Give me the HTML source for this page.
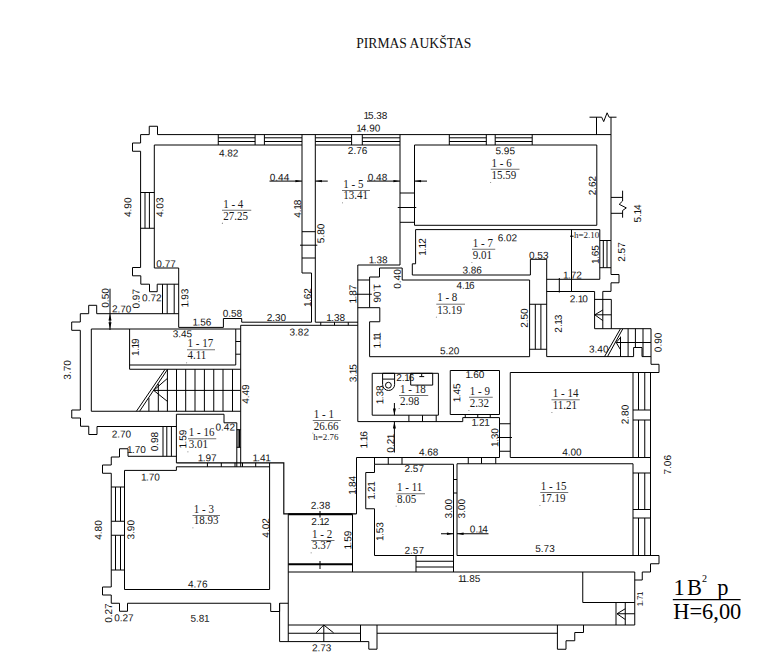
<!DOCTYPE html>
<html lang="lt"><head><meta charset="utf-8"><title>Pirmas aukštas</title>
<style>
html,body{margin:0;padding:0;background:#fff}
body{width:768px;height:653px;overflow:hidden}
svg{display:block}
.ln{fill:none;stroke:#000;stroke-linecap:butt;stroke-linejoin:miter}
.dim{font-family:"Liberation Sans","DejaVu Sans",sans-serif;font-size:10px;fill:#111;letter-spacing:0;text-anchor:middle}
.rm{font-family:"Liberation Serif","DejaVu Serif",serif;font-size:11.6px;fill:#1a1a1a;word-spacing:0}
.ttl{font-family:"Liberation Serif","DejaVu Serif",serif;font-size:13.9px;fill:#111}
.big{font-family:"Liberation Serif","DejaVu Serif",serif;font-size:23.5px;fill:#000}
</style></head><body>
<svg width="768" height="653" viewBox="0 0 768 653">
<rect width="768" height="653" fill="#fff"/>
<path class="ln" stroke-width="1" d="M611 134.6 L157.5 134.6 L157.5 126.25 L149.25 126.25 L149.25 134.6 L140.6 134.6 L140.6 143 L132.5 143 L132.5 151.25 L140.6 151.25 L140.6 267.5 L132.5 267.5 L132.5 275.8 L140.8 275.8 L140.8 284.2 L149.5 284.2 L149.5 291.7 L157.2 291.7 L157.2 284.2 L178.7 284.2 M302 145 L154.3 145 L154.3 268 L178.7 268 L178.7 327.4 L223.4 327.4 L223.4 318.5 L241.7 318.5 L241.7 322.2 L311.5 322.2 L311.5 273 L302 273 L302 134.6 M140.6 192.5 L154.3 192.5 M140.6 228.25 L154.3 228.25 M145 192.5 L145 228.25 M149.4 192.5 L149.4 228.25 M218.25 134.6 L218.25 145 M255.1 134.6 L255.1 145 M264.4 134.6 L264.4 145 M218.25 137.8 L255.1 137.8 M264.4 137.8 L302 137.8 M315.3 137.8 L351.6 137.8 M362.3 137.8 L400 137.8 M449.3 137.8 L486.3 137.8 M495.2 137.8 L532.2 137.8 M218.25 141.5 L255.1 141.5 M264.4 141.5 L302 141.5 M315.3 141.5 L351.6 141.5 M362.3 141.5 L400 141.5 M449.3 141.5 L486.3 141.5 M495.2 141.5 L532.2 141.5 M351.6 134.6 L351.6 145 M362.3 134.6 L362.3 145 M449.3 134.6 L449.3 145 M486.3 134.6 L486.3 145 M495.2 134.6 L495.2 145 M532.2 134.6 L532.2 145 M400 134.6 L400 265 L357.8 265 L357.8 421.6 M400 145 L315.3 145 M315.3 134.6 L315.3 322.2 L358 322.2 M302 231.7 L315.3 231.7 M300 245.2 L317.3 245.2 M302 258 L315.3 258 M400 193 L414.5 193 M397.75 207.5 L416.25 207.5 M400 222.3 L414.5 222.3 M414.5 145 L596.8 145 L596.8 225.3 L414.5 225.3 L414.5 145 M415.6 229.6 L599.8 229.6 L599.8 279.3 L546.7 279.3 M415.6 229.6 L415.6 263.8 L412.3 263.8 L412.3 275 L530.4 275 L530.4 259.3 L546.7 259.3 L546.7 356.6 M571.5 229.6 L571.5 291.5 M570 236.2 L573.6 236.2 M599.8 240.5 L611 240.5 M599.8 267.7 L611 267.7 M603.3 240.5 L603.3 267.7 M607 240.5 L607 267.7 M611 117.2 L611 274.5 L619 274.5 L619 282.8 L611 282.8 L611 291.4 L602.8 291.4 L602.8 328.7 M589.5 117.2 L601.7 117.2 L603.7 121.6 L607.1 112.8 L609.1 117.2 L616.5 117.2 M596.5 117.2 L596.5 134.6 M611 197.4 L622.6 197.4 M611 213.3 L622.6 213.3 M622.6 190.7 L622.6 201 L619.2 204.3 L626.3 207.9 L622.6 210.5 L622.6 217.7 M379.5 268 L402.2 268 L402.2 280 L529.6 280 L529.6 356.7 L369.6 356.7 L369.6 321.75 L379.8 321.75 L379.8 307.7 L369.6 307.7 L369.6 277 L379.5 277 L379.5 268 M357.8 280 L369.6 280 M355.5 294.25 L371.8 294.25 M357.8 307.7 L369.6 307.7 M529.6 304.25 L546.7 304.25 M529.6 349.25 L546.7 349.25 M535.3 304.25 L535.3 349.25 M540.9 304.25 L540.9 349.25 M546.7 356.6 L633.6 356.6 L633.6 347.5 L642 347.5 L642 356.6 L651 356.6 M546.7 291.5 L594.6 291.5 L594.6 328.7 L651 328.7 L651 364.3 L659 364.3 L659 372.5 L510.25 372.5 L510.25 457.5 L633 457.5 M559.3 278 L559.3 292.5 M594.6 299.4 L611.3 299.4 M594.6 314.8 L611.3 314.8 M611.3 299.4 L611.3 328.7 M602.8 310 L594.8 314.8 L602.8 320.6 M620.3 329 L604.5 356.6 M622.7 329 L607.5 356.6 M628.1 328.7 L628.1 356.6 M635.4 328.7 L635.4 347.5 M643 328.7 L643 356.6 M620.5 336.6 L620.5 356.6 M616.2 342.5 L651 342.5 M620.5 337.4 L616.2 342.5 L620.5 349.7 M372.2 373.3 L438.4 373.3 L438.4 415.2 L372.2 415.2 L372.2 373.3 M382.6 373.3 L394.6 373.3 L394.6 379.1 L382.6 379.1 L382.6 373.3 M410.7 373.3 L432.7 373.3 L432.7 385.1 L410.7 385.1 L410.7 373.3 M421.7 374 L421.7 376.6 M419.3 376.6 L424.2 376.6 M357.8 421.6 L462.75 421.6 L462.75 417.6 L499.5 417.6 L499.5 457.5 M408.9 415.2 L408.9 421.6 M422.5 415.2 L422.5 421.6 M436.2 415.2 L436.2 421.6 M394.4 403 L394.4 415.2 M394.4 421.6 L394.4 452.5 M450.25 370.5 L499.5 370.5 L499.5 414.5 L450.25 414.5 L450.25 370.5 M465.25 414.5 L465.25 417.6 M477.75 414.5 L477.75 417.6 M490.25 414.5 L490.25 417.6 M633 372.5 L633 457.5 M499.5 423.75 L510.25 423.75 M497.75 437.5 L512 437.5 M499.5 451.25 L510.25 451.25 M499.5 457.5 L356.5 457.5 L356.5 513.9 M374.5 457.5 L374.5 464.25 M388.25 457.5 L388.25 464.25 M402 457.5 L402 464.25 M468.25 457.5 L468.25 463.75 M481.5 457.5 L481.5 463.75 M495.75 457.5 L495.75 463.75 M374.5 464.25 L453.5 464.25 L453.5 572 M374.5 464.25 L374.5 472.5 L365.75 472.5 L365.75 508.75 L374.5 508.75 L374.5 555.5 L453.5 555.5 M416 555.5 L416 572 M416 561.25 L453.5 561.25 M416 567 L453.5 567 M453.5 479.5 L457 479.5 M453.5 493 L457 493 M633 463.75 L457 463.75 L457 555.5 L659 555.5 L659 563.75 L650.5 563.75 L650.5 572 L642.25 572 L642.25 580 L634.75 580 L634.75 625 M633 463.75 L633 555.5 M634.75 572 L634.75 580 M650.5 372.5 L650.5 555.5 M638.5 372.5 L638.5 410 M644.75 372.5 L644.75 410 M638.5 420 L638.5 457.5 M644.75 420 L644.75 457.5 M638.5 473 L638.5 509.5 M644.75 473 L644.75 509.5 M638.5 518 L638.5 555.5 M644.75 518 L644.75 555.5 M633 410 L650.5 410 M633 420 L650.5 420 M633 457.5 L650.5 457.5 M633 473 L650.5 473 M633 509.5 L650.5 509.5 M633 518 L650.5 518 M288.25 572 L634.75 572 M240.7 466.7 L240.7 325.3 L357.8 325.3 M320.75 322.2 L320.75 325.3 M334.5 322.2 L334.5 325.3 M348.25 322.2 L348.25 325.3 M269.6 462.9 L269.6 589.5 L124.5 589.5 L124.5 470.4 L176.4 470.4 L176.4 466.8 L269.6 466.8 M176.4 462.9 L176.4 414.25 L224 414.25 L224 422.8 L236.8 422.8 L236.8 466.8 M207.4 462.9 L207.4 466.8 M221.3 462.9 L221.3 466.8 M235 462.9 L235 466.8 M242.5 462.9 L242.5 466.8 M255.7 462.9 L255.7 466.8 M236.8 429.7 L240.7 429.7 M236.8 447.3 L240.7 447.3 M238.1 429.7 L238.1 447.3 M239.5 429.7 L239.5 447.3 M178.7 313.7 L96.7 313.7 L96.7 305.3 L88.7 305.3 L88.7 313.7 L80.3 313.7 L80.3 322 L71.7 322 L71.7 330.3 L80.3 330.3 L80.3 410 L71.75 410 L71.75 418 L80.5 418 L80.5 426.25 L88.75 426.25 L88.75 434.5 L97 434.5 L97 426.5 L176.4 426.5 M162.5 284.2 L162.5 313.7 M167.2 284.2 L167.2 313.7 M174.2 284.2 L174.2 313.7 M240.6 329 L91.3 329 L91.3 411.25 L240.6 411.25 M129.6 329 L129.6 369.25 L240.6 369.25 M129.6 365 L235.75 365 M235.75 329 L235.75 365 M235.75 341.5 L240.6 341.5 M235.75 354.2 L240.6 354.2 M167.4 369.25 L167.4 411.25 M176.5 369.25 L176.5 411.25 M185.7 369.25 L185.7 411.25 M195 369.25 L195 411.25 M204.4 369.25 L204.4 411.25 M213.75 369.25 L213.75 411.25 M223 369.25 L223 411.25 M232.5 369.25 L232.5 411.25 M153.7 390.4 L240.6 390.4 M165.1 369.25 L136.4 411.25 M167.4 369.6 L139.6 411.25 M167.4 378.4 L153.7 390.4 L167.4 401.4 M148.9 398 L148.9 411.25 M158.3 383.9 L158.3 411.25 M110 288.7 L110 330 M163 426.5 L163 456.3 M166.8 426.5 L166.8 456.3 M171.4 426.5 L171.4 456.3 M176.4 456.3 L128 456.3 L128 448.75 L119.5 448.75 L119.5 457 L111.25 457 L111.25 465 L102.5 465 L102.5 473.25 L111.25 473.25 L111.25 587 L102.5 587 L102.5 595 L111.25 595 L111.25 603.25 L119.5 603.25 L119.5 611.25 L127.5 611.25 L127.5 603.25 L270.7 603.25 L270.7 611.5 L279.6 611.5 L279.6 603.25 L288.25 603.25 M111.25 487 L124.5 487 M111.25 521.25 L124.5 521.25 M111.25 535.25 L124.5 535.25 M111.25 570 L124.5 570 M115.5 487 L115.5 521.25 M120.5 487 L120.5 521.25 M115.5 535.25 L115.5 570 M120.5 535.25 L120.5 570 M279.6 603.25 L279.6 641.6 L368.8 641.6 L368.8 649.2 L377 649.2 L377 625 M288.25 514.25 L288.25 641.6 M288.25 625 L634.75 625 M288.25 633.25 L360.5 633.25 M360.5 625 L360.5 641.6 M377 633.25 L557.4 633.25 M557.4 625 L557.4 649.25 L566 649.25 L566 640.75 L574.75 640.75 L574.75 632.5 L583.5 632.5 L583.5 625 M323.8 625 L323.8 641.6 M316.2 632.8 L323.8 625 L333.6 632.8 M582.75 572 L582.75 602.5 L634.75 602.5 M616 602.5 L616 625 M625.25 602.5 L625.25 625 M617 613.75 L634.75 613.75 M625.25 608.75 L617 613.75 L625.25 619.5 M352.5 514.25 L352.5 572 M320 511 L320 517.5 M320 561 L320 569 M269.5 181.1 L302 181.1 M315.3 181.1 L327.75 181.1 M367 181.1 L400 181.1 M414.5 181.1 L427 181.1 M441 533.75 L453.5 533.75 M457 533.75 L488.5 533.75"/>
<path class="ln" stroke-width="1.15" d="M176.4 462.9 L283.8 462.9 L283.8 513.9 L356.5 513.9"/>
<path class="ln" stroke-width="1.9" d="M288.25 514.25 L352.5 514.25 M288.25 564.25 L352.5 564.25"/>
<path class="ln" stroke-width="1" d="M382.6 379.1 V384.5 A6 6 0 0 0 394.6 384.5 V379.1"/>
<circle class="ln" stroke-width="1" cx="388.4" cy="385.2" r="2.9"/>
<path fill="#000" d="M302 181.1 L295.4 179.95 L295.4 182.25Z M315.3 181.1 L321.9 179.95 L321.9 182.25Z M400 181.1 L393.4 179.95 L393.4 182.25Z M414.5 181.1 L421.1 179.95 L421.1 182.25Z M453.5 533.75 L446.9 532.6 L446.9 534.9Z M457 533.75 L463.6 532.6 L463.6 534.9Z M110 313.7 L108.5 320.5 L111.5 320.5Z M110 329 L108.5 322.2 L111.5 322.2Z M394.4 415.2 L392.9 408.4 L395.9 408.4Z M394.4 421.6 L392.9 428.4 L395.9 428.4Z"/>
<text class="ttl" x="356.2" y="47.5" textLength="115.2" lengthAdjust="spacingAndGlyphs">PIRMAS AUKŠTAS</text>
<g class="dim">
<text transform="translate(375.8 118.9) rotate(.2)" dx="-0.4 -1 0 0 0">15.38</text>
<text transform="translate(368.65 131.6) rotate(.2)" dx="-0.4 -1 0 0 0">14.90</text>
<text transform="translate(357.6 154) rotate(.2)">2.76</text>
<text transform="translate(228.62 156.5) rotate(.2)">4.82</text>
<text transform="translate(279.5 180.7) rotate(.2)">0.44</text>
<text transform="translate(377.5 180.7) rotate(.2)">0.48</text>
<text transform="translate(297.62 208.75) rotate(-89.8)" y="3.3" dx="0 0 -0.4 -1">4.18</text>
<text transform="translate(321 233.38) rotate(-89.8)" y="3.3">5.80</text>
<text transform="translate(422.35 246.6) rotate(-89.8)" y="3.3" dx="-0.4 -0.6 -0.4 -1">1.12</text>
<text transform="translate(378.65 263.3) rotate(.2)" dx="-0.4 -0.6 0 0">1.38</text>
<text transform="translate(505.25 154.25) rotate(.2)">5.95</text>
<text transform="translate(592.38 185.62) rotate(-89.8)" y="3.3">2.62</text>
<text transform="translate(507.38 241.25) rotate(.2)">6.02</text>
<text transform="translate(538.75 258.8) rotate(.2)">0.53</text>
<text transform="translate(595.55 254.25) rotate(-89.8)" y="3.3" dx="-0.4 -0.6 0 0">1.65</text>
<text transform="translate(621.65 252) rotate(-89.8)" y="3.3">2.57</text>
<text transform="translate(637.7 213.5) rotate(-89.8)" y="3.3" dx="0 0 -0.4 -1">5.14</text>
<text transform="translate(128 207.25) rotate(-89.8)" y="3.3">4.90</text>
<text transform="translate(160 207.25) rotate(-89.8)" y="3.3">4.03</text>
<text transform="translate(166.1 267.2) rotate(.2)">0.77</text>
<text transform="translate(151.8 301.2) rotate(.2)">0.72</text>
<text transform="translate(136.25 298.75) rotate(-89.8)" y="3.3">0.97</text>
<text transform="translate(105.5 297.95) rotate(-89.8)" y="3.3">0.50</text>
<text transform="translate(121.65 312.4) rotate(.2)">2.70</text>
<text transform="translate(185 297.75) rotate(-89.8)" y="3.3" dx="-0.4 -0.6 0 0">1.93</text>
<text transform="translate(202.25 325.5) rotate(.2)" dx="-0.4 -0.6 0 0">1.56</text>
<text transform="translate(232.38 316.75) rotate(.2)">0.58</text>
<text transform="translate(182.38 337.25) rotate(.2)">3.45</text>
<text transform="translate(135.38 346.75) rotate(-89.8)" y="3.3" dx="-0.4 -0.6 -0.4 -1">1.19</text>
<text transform="translate(67.5 369.88) rotate(-89.8)" y="3.3">3.70</text>
<text transform="translate(245.62 394.12) rotate(-89.8)" y="3.3">4.49</text>
<text transform="translate(307.62 297.12) rotate(-89.8)" y="3.3" dx="-0.4 -0.6 0 0">1.62</text>
<text transform="translate(276.38 321) rotate(.2)">2.30</text>
<text transform="translate(336.12 321) rotate(.2)" dx="-0.4 -0.6 0 0">1.38</text>
<text transform="translate(299.25 335.5) rotate(.2)">3.82</text>
<text transform="translate(353 293.75) rotate(-89.8)" y="3.3" dx="-0.4 -0.6 0 0">1.87</text>
<text transform="translate(377 293.62) rotate(90.2)" y="3.3" dx="-0.4 -0.6 0 0">1.06</text>
<text transform="translate(397.5 279) rotate(-89.8)" y="3.3">0.40</text>
<text transform="translate(377.25 339.88) rotate(-89.8)" y="3.3" dx="-0.4 -0.6 -0.4 -1.4">1.11</text>
<text transform="translate(353.25 373.25) rotate(-89.8)" y="3.3" dx="0 0 -0.4 -1">3.15</text>
<text transform="translate(405.25 381) rotate(.2)" dx="0 0 -0.4 -1">2.16</text>
<text transform="translate(380 394.5) rotate(-89.8)" y="3.3" dx="-0.4 -0.6 0 0">1.38</text>
<text transform="translate(472.12 273.5) rotate(.2)">3.86</text>
<text transform="translate(465.5 288.75) rotate(.2)" dx="0 0 -0.4 -1">4.16</text>
<text transform="translate(524.5 318.12) rotate(-89.8)" y="3.3">2.50</text>
<text transform="translate(449.65 354.25) rotate(.2)">5.20</text>
<text transform="translate(572.75 278.5) rotate(.2)" dx="-0.4 -0.6 0 0">1.72</text>
<text transform="translate(578.75 302.25) rotate(.2)" dx="0 0 -0.4 -1">2.10</text>
<text transform="translate(558.38 323.62) rotate(-89.8)" y="3.3" dx="0 0 -0.4 -1">2.13</text>
<text transform="translate(598.75 352.5) rotate(.2)">3.40</text>
<text transform="translate(658.1 342.4) rotate(-89.8)" y="3.3">0.90</text>
<text transform="translate(475.25 378) rotate(.2)" dx="-0.4 -0.6 0 0">1.60</text>
<text transform="translate(457 392.5) rotate(-89.8)" y="3.3" dx="-0.4 -0.6 0 0">1.45</text>
<text transform="translate(481 425.75) rotate(.2)" dx="-0.4 -0.6 0 -0.4">1.21</text>
<text transform="translate(495 437.12) rotate(-89.8)" y="3.3" dx="-0.4 -0.6 0 0">1.30</text>
<text transform="translate(571.88 455.5) rotate(.2)">4.00</text>
<text transform="translate(625.15 414.52) rotate(-89.8)" y="3.3">2.80</text>
<text transform="translate(667.75 464.75) rotate(-89.8)" y="3.3">7.06</text>
<text transform="translate(121.38 437.5) rotate(.2)">2.70</text>
<text transform="translate(136.88 453) rotate(.2)" dx="-0.4 -0.6 0 0">1.70</text>
<text transform="translate(154.75 441.62) rotate(-89.8)" y="3.3">0.98</text>
<text transform="translate(182.88 438.75) rotate(-89.8)" y="3.3" dx="-0.4 -0.6 0 0">1.59</text>
<text transform="translate(225.25 430.5) rotate(.2)">0.42</text>
<text transform="translate(207.5 461.25) rotate(.2)" dx="-0.4 -0.6 0 0">1.97</text>
<text transform="translate(150.88 480.5) rotate(.2)" dx="-0.4 -0.6 0 0">1.70</text>
<text transform="translate(98.5 530) rotate(-89.8)" y="3.3">4.80</text>
<text transform="translate(131 529.75) rotate(-89.8)" y="3.3">3.90</text>
<text transform="translate(363.88 439.38) rotate(-89.8)" y="3.3" dx="-0.4 -0.6 -0.4 -1">1.16</text>
<text transform="translate(390.8 443.12) rotate(-89.8)" y="3.3" dx="0 0 0 -0.4">0.21</text>
<text transform="translate(428.62 455.5) rotate(.2)">4.68</text>
<text transform="translate(262 461.25) rotate(.2)" dx="-0.4 -0.6 0 -0.4">1.41</text>
<text transform="translate(414.25 472) rotate(.2)">2.57</text>
<text transform="translate(352.38 485) rotate(-89.8)" y="3.3" dx="-0.4 -0.6 0 0">1.84</text>
<text transform="translate(371.38 490.12) rotate(-89.8)" y="3.3" dx="-0.4 -0.6 0 -0.4">1.21</text>
<text transform="translate(320.5 508.75) rotate(.2)">2.38</text>
<text transform="translate(320.38 525) rotate(.2)" dx="0 0 -0.4 -1">2.12</text>
<text transform="translate(348 539.62) rotate(-89.8)" y="3.3" dx="-0.4 -0.6 0 0">1.59</text>
<text transform="translate(380 531.25) rotate(-89.8)" y="3.3" dx="-0.4 -0.6 0 0">1.53</text>
<text transform="translate(414.25 553.75) rotate(.2)">2.57</text>
<text transform="translate(266 527.88) rotate(-89.8)" y="3.3">4.02</text>
<text transform="translate(448.75 508.75) rotate(-89.8)" y="3.3">3.00</text>
<text transform="translate(461.75 508.75) rotate(-89.8)" y="3.3">3.00</text>
<text transform="translate(478.88 532.5) rotate(.2)" dx="0 0 -0.4 -1">0.14</text>
<text transform="translate(545 552) rotate(.2)">5.73</text>
<text transform="translate(197.75 587.5) rotate(.2)">4.76</text>
<text transform="translate(200 621.75) rotate(.2)" dx="0 0 0 -0.4">5.81</text>
<text transform="translate(108.75 613.12) rotate(-89.8)" y="3.3">0.27</text>
<text transform="translate(123.88 621.25) rotate(.2)">0.27</text>
<text transform="translate(321.7 651.3) rotate(.2)">2.73</text>
<text transform="translate(469.62 582) rotate(.2)" dx="-0.4 -1.4 -0.6 0 0">11.85</text>
</g>
<g class="rm">
<text transform="translate(223.2 208.1) scale(.95 1)">1 - 4</text><text transform="translate(223.2 219.8) scale(.95 1)">27.25</text>
<text transform="translate(343.25 188.45) scale(.95 1)">1 - 5</text><text transform="translate(343.25 199.45) scale(.95 1)">13.41</text>
<text transform="translate(491.5 166.95) scale(.95 1)">1 - 6</text><text transform="translate(491.5 178.9) scale(.95 1)">15.59</text>
<text transform="translate(472.75 246.95) scale(.95 1)">1 - 7</text><text transform="translate(472.75 258.95) scale(.95 1)">9.01</text>
<text transform="translate(437.2 301.4) scale(.95 1)">1 - 8</text><text transform="translate(437.2 313.7) scale(.95 1)">13.19</text>
<text transform="translate(187.5 347.45) scale(.95 1)">1 - 17</text><text transform="translate(187.5 359.45) scale(.95 1)">4.11</text>
<text transform="translate(400 393.2) scale(.95 1)">1 - 18</text><text transform="translate(400 404.95) scale(.95 1)">2.98</text>
<text transform="translate(469.75 394.95) scale(.95 1)">1 - 9</text><text transform="translate(469.75 406.95) scale(.95 1)">2.32</text>
<text transform="translate(552.75 397.45) scale(.95 1)">1 - 14</text><text transform="translate(552.75 408.95) scale(.95 1)">11.21</text>
<text transform="translate(313.75 418.2) scale(.95 1)">1 - 1</text><text transform="translate(313.75 429.7) scale(.95 1)">26.66</text>
<text transform="translate(188.75 436.45) scale(.95 1)">1 - 16</text><text transform="translate(188.75 448.45) scale(.95 1)">3.01</text>
<text transform="translate(193.75 513.2) scale(.95 1)">1 - 3</text><text transform="translate(193.75 524.45) scale(.95 1)">18.93</text>
<text transform="translate(397 491.45) scale(.95 1)">1 - 11</text><text transform="translate(397 502.7) scale(.95 1)">8.05</text>
<text transform="translate(312 538.2) scale(.95 1)">1 - 2</text><text transform="translate(312 549.45) scale(.95 1)">3.37</text>
<text transform="translate(540.75 490.2) scale(.95 1)">1 - 15</text><text transform="translate(540.75 501.95) scale(.95 1)">17.19</text>
</g>
<path class="ln" stroke-width="0.75" style="stroke:#444" d="M222 210.25 H251.25 M342 190.5 H370 M490.75 169.25 H519.5 M472 249.25 H495.25 M436.3 304.2 H465 M187 349.75 H215 M399 395.5 H428.25 M469 397.25 H492.75 M551.5 399.75 H579.75 M312.75 420.5 H340.75 M188 438.75 H216.25 M192.5 515.5 H220 M396.25 493.75 H425 M311.25 540.5 H334.5 M540.25 492.5 H568.25"/>
<path fill="#555" d="M221.9 222.8h.9v.9h-.9z M341.95 202.45h.9v.9h-.9z M490.2 181.9h.9v.9h-.9z M471.45 261.95h.9v.9h-.9z M435.9 316.7h.9v.9h-.9z M186.2 362.45h.9v.9h-.9z M398.7 407.95h.9v.9h-.9z M468.45 409.95h.9v.9h-.9z M551.45 411.95h.9v.9h-.9z M312.45 432.7h.9v.9h-.9z M187.45 451.45h.9v.9h-.9z M192.45 527.45h.9v.9h-.9z M395.7 505.7h.9v.9h-.9z M310.7 552.45h.9v.9h-.9z M539.45 504.95h.9v.9h-.9z"/>
<text class="rm" style="font-size:9px" x="574" y="238.3">h=2.10</text>
<text class="rm" style="font-size:9px" x="313.25" y="439.5">h=2.76</text>
<text class="dim" style="font-size:8px;fill:#000" transform="translate(640 598.4) rotate(-89.8)" y="2.8" dx="-.4 -.4 0 -.4">1.71</text>
<text class="big" transform="translate(673.4 594.6) scale(.955 1)">1</text><text class="big" transform="translate(686.9 594.6) scale(.955 1)">B</text><text class="big" style="font-size:10.6px" transform="translate(702 581.8) scale(.955 1)">2</text><text class="big" transform="translate(717.3 594.6) scale(.955 1)">p</text>
<path class="ln" stroke-width="1.2" d="M672.8 599.6 H740.6"/>
<text class="big" transform="translate(673.2 618.7) scale(.955 1)">H=6,00</text>
</svg>
</body></html>
